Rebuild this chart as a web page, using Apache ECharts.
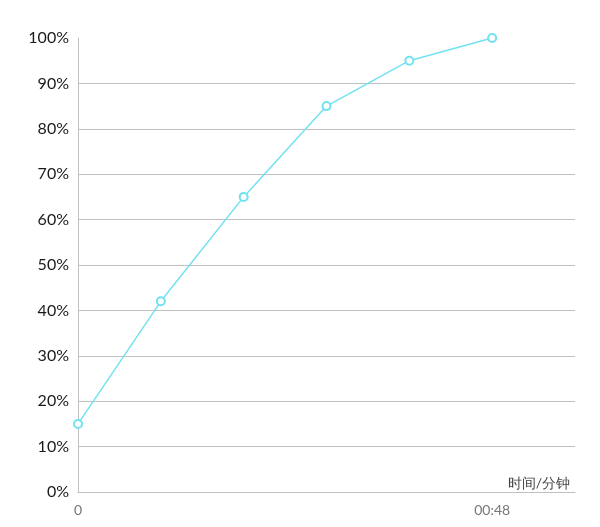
<!DOCTYPE html>
<html><head><meta charset="utf-8">
<script src="https://cdn.jsdelivr.net/npm/echarts@6/dist/echarts.min.js"></script>
<style>html,body{margin:0;padding:0;background:#fff}#c{width:600px;height:527px}</style>
</head><body><div id="c"></div>
<script>
var categories = ['0', '', '', '', '', '00:48', ''];
var values = [15, 42, 65, 85, 95, 100];
var yTicks = [0, 10, 20, 30, 40, 50, 60, 70, 80, 90, 100];
var xName = '时间/分钟';

var chart = echarts.init(document.getElementById('c'));
var splitColors = yTicks.map(function (v, i) { return i === yTicks.length - 1 ? 'rgba(0,0,0,0)' : '#c0c0c0'; });
chart.setOption({
  animation: false,
  textStyle: { fontFamily: 'Lato, "Noto Sans", sans-serif' },
  grid: { left: 78, right: 25, top: 38, bottom: 35 },
  xAxis: {
    type: 'category',
    data: categories,
    boundaryGap: false,
    name: xName,
    nameLocation: 'end',
    nameGap: -5,
    nameTextStyle: { align: 'right', verticalAlign: 'bottom', padding: [0, 0, 2, 0], color: '#444', fontSize: 14 },
    axisLine: { lineStyle: { color: '#c0c0c0' } },
    axisTick: { show: false },
    axisLabel: { interval: 0, color: '#777', fontSize: 14, margin: 11 },
    splitLine: { show: false }
  },
  yAxis: {
    type: 'value',
    min: 0, max: 100, interval: 10,
    axisLine: { show: true, lineStyle: { color: '#c0c0c0' } },
    axisTick: { show: false },
    axisLabel: { formatter: '{value}%', color: '#1a1a1a', fontSize: 16, margin: 9 },
    splitLine: { show: true, lineStyle: { color: splitColors } }
  },
  series: [{
    type: 'line',
    data: values,
    symbol: 'emptyCircle',
    symbolSize: 8,
    lineStyle: { color: '#72e2f0', width: 1.5 },
    itemStyle: { color: '#72e2f0', borderWidth: 2 }
  }]
});
</script></body></html>
